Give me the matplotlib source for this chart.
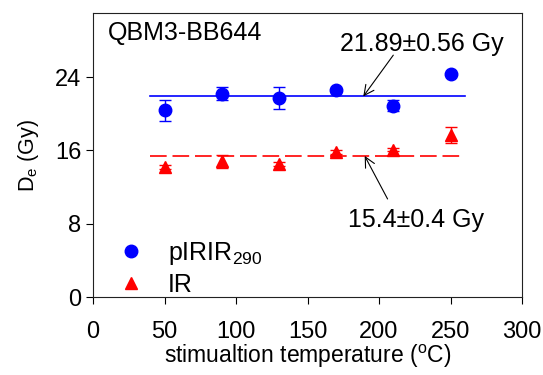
import matplotlib
matplotlib.use("Agg")
import matplotlib.pyplot as plt

# stimulation temperatures (degC)
temps = [50, 90, 130, 170, 210, 250]

# pIRIR290 De values and errors (Gy)
pirir_de = [20.4, 22.2, 21.7, 22.6, 20.9, 24.3]
pirir_err = [1.15, 0.75, 1.2, 0.2, 0.6, 0.2]

# IR De values and errors (Gy)
ir_de = [14.2, 14.8, 14.5, 15.8, 16.1, 17.7]
ir_err = [0.2, 0.7, 0.2, 0.2, 0.2, 0.9]

# weighted means
pirir_mean = 21.89
ir_mean = 15.4
mean_span = [40, 260]

plt.rcParams["font.family"] = ["Liberation Sans", "DejaVu Sans"]
plt.rcParams["font.size"] = 17
plt.rcParams["mathtext.fontset"] = "custom"
plt.rcParams["mathtext.rm"] = "Liberation Sans"
plt.rcParams["mathtext.it"] = "Liberation Sans"

fig = plt.figure(figsize=(5.43, 3.75), dpi=100)
ax = fig.add_axes([93 / 543, 78 / 375, 429 / 543, 284 / 375])

ax.errorbar(temps, pirir_de, yerr=pirir_err, fmt="o", color="blue", ms=9,
            capsize=4, elinewidth=1, capthick=1, label="pIRIR$_{290}$")
ax.errorbar(temps, ir_de, yerr=ir_err, fmt="^", color="red", ms=9,
            capsize=4, elinewidth=1, capthick=1, label="IR")

ax.plot(mean_span, [pirir_mean, pirir_mean], color="blue", lw=1.2)
ax.plot(mean_span, [ir_mean, ir_mean], color="red", lw=1.2, dashes=(10, 3.5))

arrow = dict(arrowstyle="->", color="black", lw=0.8, mutation_scale=18,
             shrinkA=0, shrinkB=0)
ax.annotate("", xy=(189, pirir_mean), xytext=(210, 26.4), arrowprops=arrow)
ax.text(172.7, 27.6, "21.89\u00b10.56 Gy", ha="left", va="center", fontsize=18)
ax.annotate("", xy=(190, ir_mean), xytext=(206, 10.7), arrowprops=arrow)
ax.text(178, 8.4, "15.4\u00b10.4 Gy", ha="left", va="center", fontsize=18)

ax.text(0.035, 0.93, "QBM3-BB644", transform=ax.transAxes, ha="left",
        va="center", fontsize=18)

ax.set_xlim(0, 300)
ax.set_ylim(0, 31)
ax.set_xticks([0, 50, 100, 150, 200, 250, 300])
ax.set_yticks([0, 8, 16, 24])
ax.tick_params(direction="out", length=5, width=0.8)
ax.tick_params(axis="x", pad=12)
ax.set_xlabel("stimualtion temperature ($^{\\rm o}$C)", labelpad=0, fontsize=16.5)
ax.set_ylabel("D$_{\\rm e}$ (Gy)", labelpad=10, fontsize=15.5)
for s in ax.spines.values():
    s.set_linewidth(0.8)
    s.set_color("#222222")

handles, labels = ax.get_legend_handles_labels()
handles = [h[0] for h in handles]
ax.legend(handles, labels, loc="lower left", frameon=False, numpoints=1,
          handlelength=1.0, handletextpad=1.0, labelspacing=0.25, fontsize=18,
          borderaxespad=0.0, bbox_to_anchor=(0.035, -0.035))

fig.savefig("out.png", dpi=100)
